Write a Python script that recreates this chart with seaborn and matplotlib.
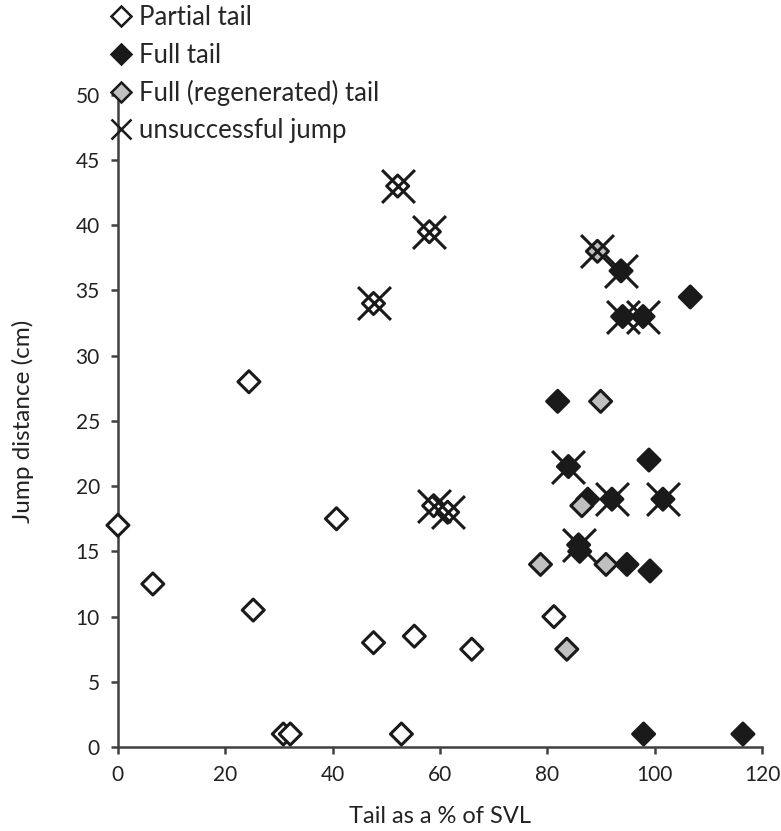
import matplotlib
matplotlib.use('Agg')
import matplotlib.pyplot as plt
from matplotlib.lines import Line2D
import seaborn as sns
import pandas as pd

# tail length (% of SVL), jump distance (cm)
partial_x = [0, 6.5, 24.4, 25.2, 40.7, 47.6, 55.2, 65.9, 52.8, 30.8, 32.1, 81.2,
             52.1, 58.0, 47.6, 58.8, 61.4]
partial_y = [17, 12.5, 28, 10.5, 17.5, 8, 8.5, 7.5, 1, 1, 1, 10,
             43, 39.5, 34, 18.5, 18]
partial_fail = [0] * 12 + [1] * 5

full_x = [106.6, 81.9, 98.9, 87.5, 86.0, 94.8, 99.1, 97.9, 116.4,
          93.7, 94.0, 97.8, 83.9, 92.0, 101.5, 85.8]
full_y = [34.5, 26.5, 22, 19, 15, 14, 13.5, 1, 1,
          36.5, 33, 33, 21.5, 19, 19, 15.5]
full_fail = [0] * 9 + [1] * 7

regen_x = [89.9, 86.4, 78.7, 90.9, 83.6, 89.3]
regen_y = [26.5, 18.5, 14, 14, 7.5, 38]
regen_fail = [0, 0, 0, 0, 0, 1]

tail_types = ['Partial tail', 'Full tail', 'Full (regenerated) tail']
colors = {'Partial tail': 'white', 'Full tail': '#1a1a1a', 'Full (regenerated) tail': '#c0c0c0'}

df = pd.concat([
    pd.DataFrame({'tail': partial_x, 'jump': partial_y, 'fail': partial_fail, 'type': tail_types[0]}),
    pd.DataFrame({'tail': full_x, 'jump': full_y, 'fail': full_fail, 'type': tail_types[1]}),
    pd.DataFrame({'tail': regen_x, 'jump': regen_y, 'fail': regen_fail, 'type': tail_types[2]}),
], ignore_index=True)

sns.set_style('white')
plt.rcParams['font.family'] = ['Lato', 'DejaVu Sans']

fig = plt.figure(figsize=(7.81, 8.31), dpi=100)
ax = fig.add_axes([0.151, 0.101, 0.825, 0.785])

sns.scatterplot(data=df, x='tail', y='jump', hue='type', hue_order=tail_types,
                palette=colors, marker='D', s=125, edgecolor='#1a1a1a',
                linewidth=2.2, legend=False, ax=ax, zorder=3, clip_on=False)
sns.scatterplot(data=df[df['fail'] == 1], x='tail', y='jump', marker='x', s=560,
                color='#1a1a1a', linewidth=2.2, legend=False, ax=ax, zorder=4,
                clip_on=False)

ax.set_xlim(0, 120)
ax.set_ylim(0, 50)
ax.set_xticks(range(0, 121, 20))
ax.set_yticks(range(0, 51, 5))
ax.set_xlabel('Tail as a % of SVL', fontsize=17, color='#222222', labelpad=15)
ax.set_ylabel('Jump distance (cm)', fontsize=17.5, color='#222222', labelpad=30)
ax.tick_params(axis='both', direction='out', length=5, width=1.8, color='#404040',
               labelsize=15, labelcolor='#222222', bottom=True, left=True, pad=8)
for side in ['top', 'right']:
    ax.spines[side].set_visible(False)
for side in ['left', 'bottom']:
    ax.spines[side].set_color('#404040')
    ax.spines[side].set_linewidth(1.8)

handles = [Line2D([], [], linestyle='none', marker='D', markersize=10,
                  markerfacecolor=colors[t], markeredgecolor='#1a1a1a',
                  markeredgewidth=1.8) for t in tail_types]
handles.append(Line2D([], [], linestyle='none', marker='x', markersize=15,
                      color='#1a1a1a', markeredgewidth=1.8))
fig.legend(handles, tail_types + ['unsuccessful jump'], loc='upper left',
           bbox_to_anchor=(0.121, 1.012), frameon=False, fontsize=18.5,
           handlelength=0.9, handletextpad=0.25, labelspacing=0.47, borderpad=0.1)

fig.savefig('out.png', dpi=100)
